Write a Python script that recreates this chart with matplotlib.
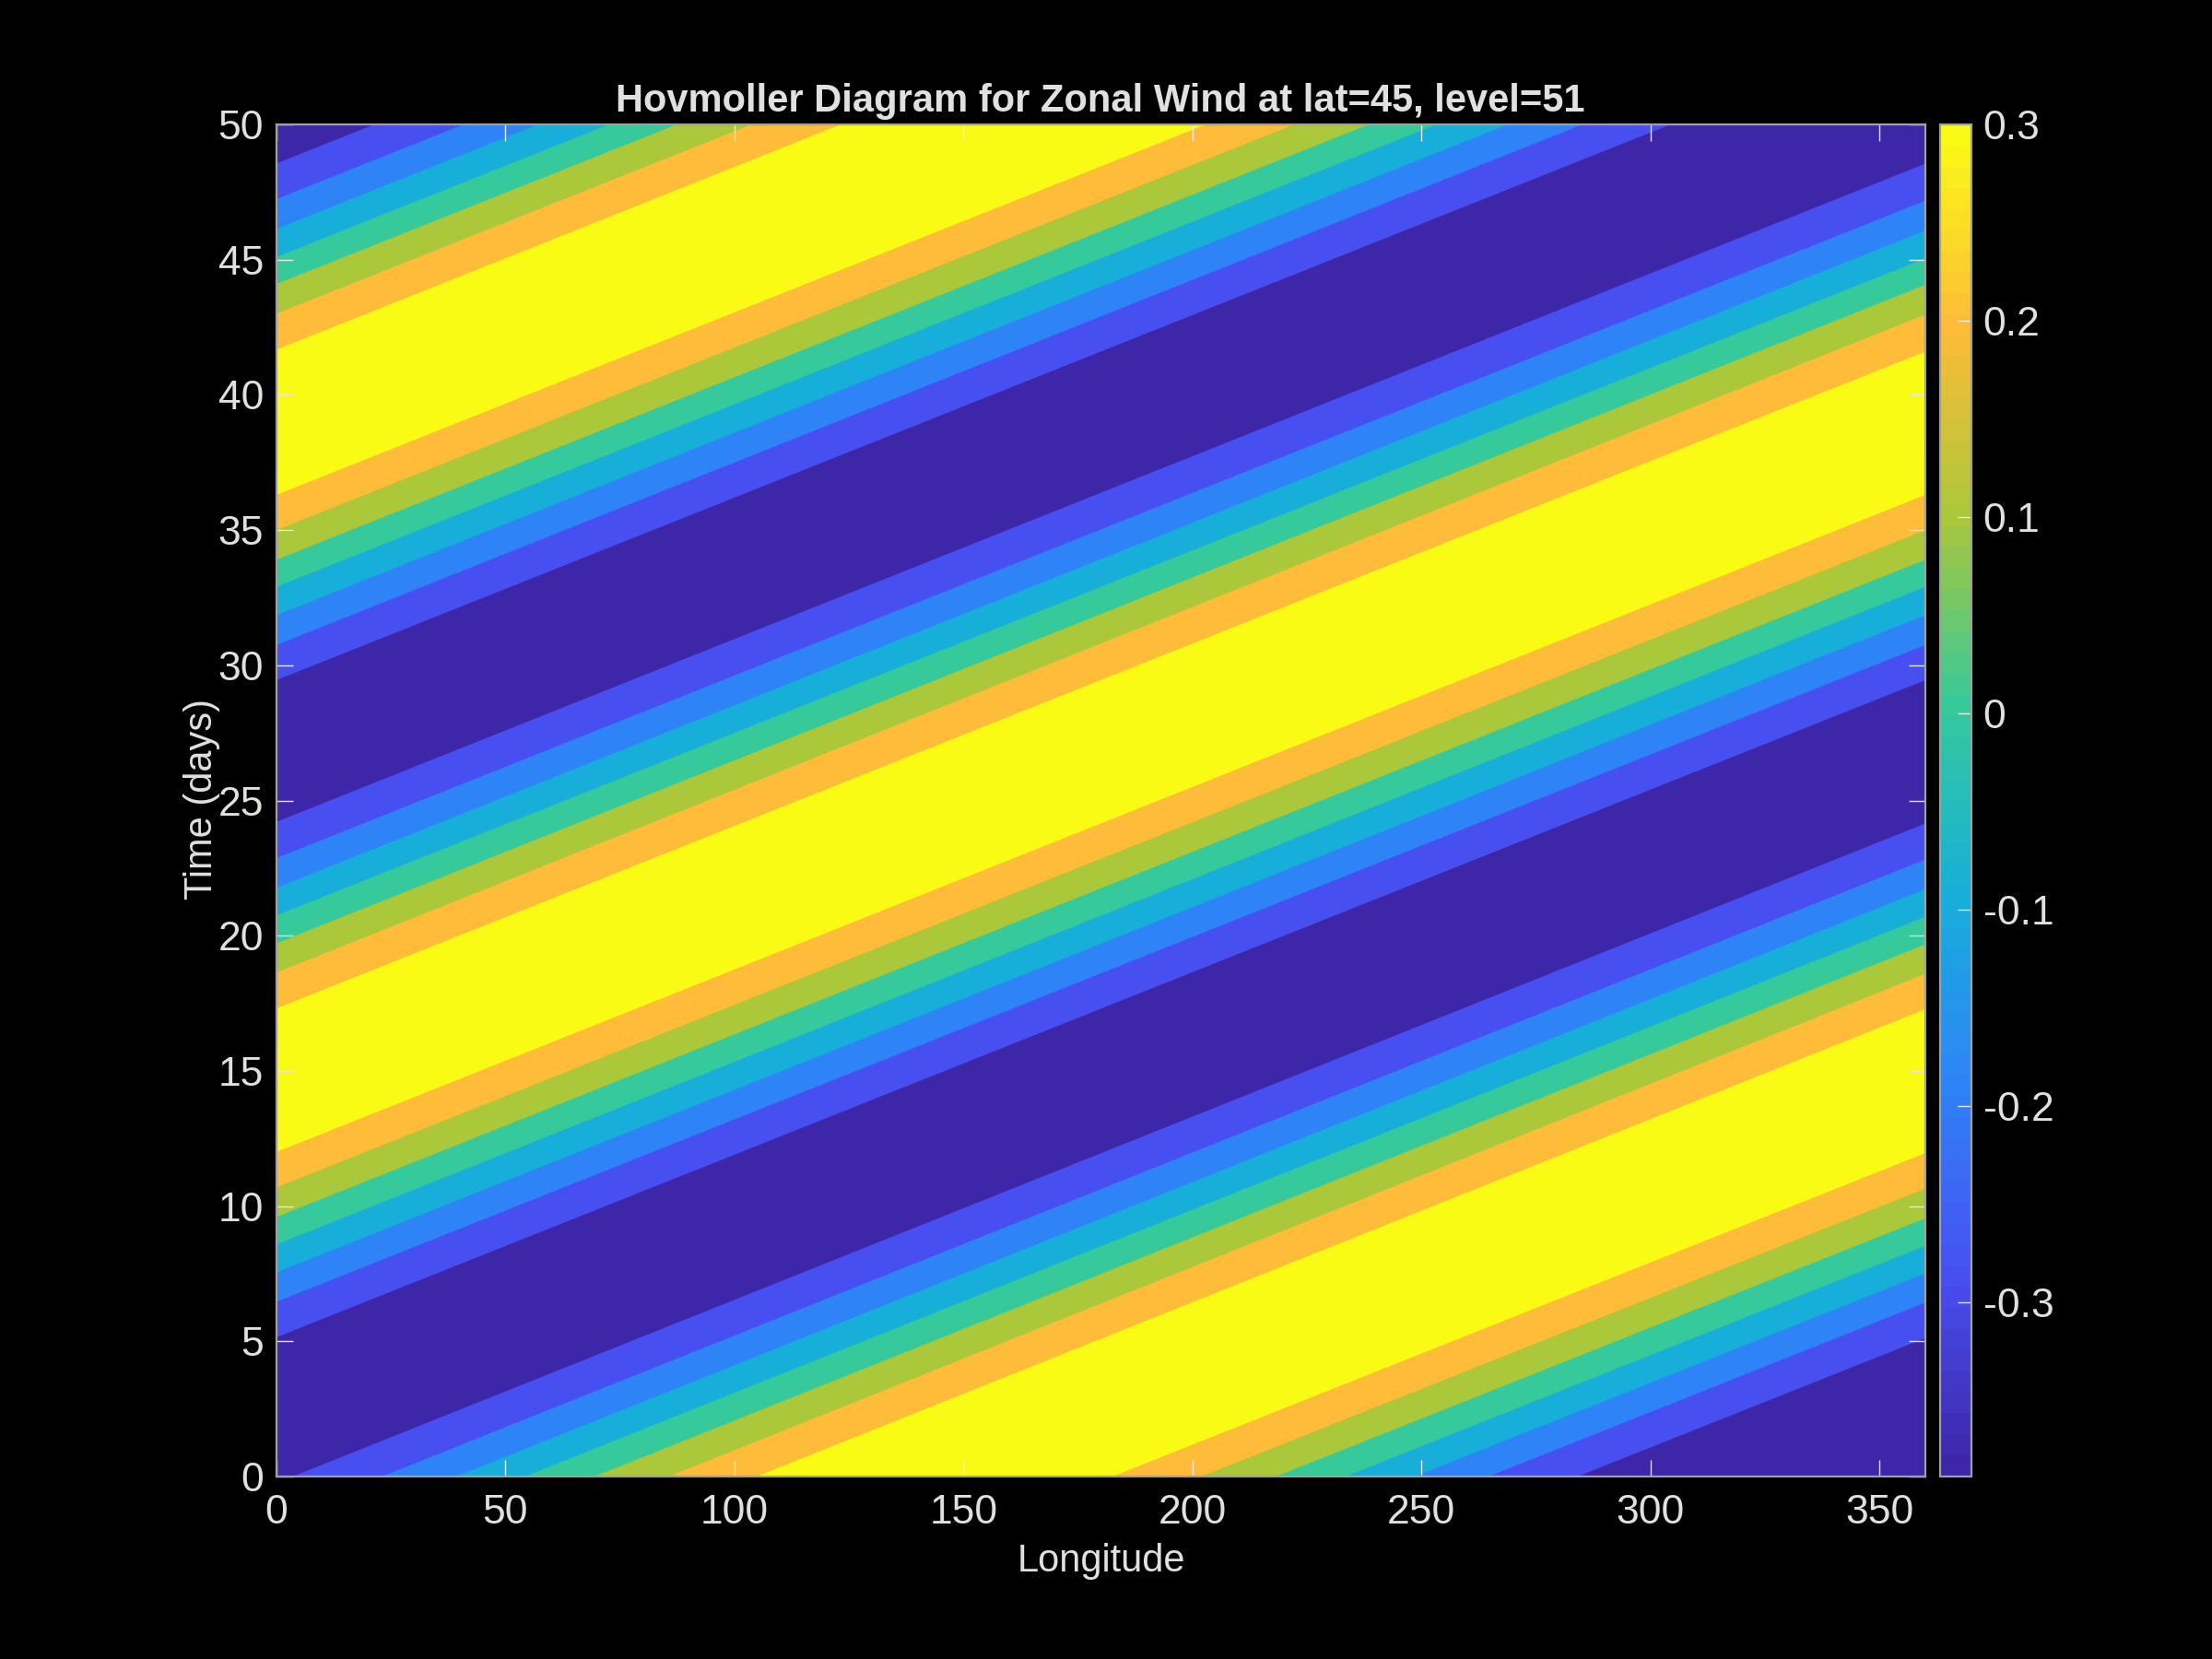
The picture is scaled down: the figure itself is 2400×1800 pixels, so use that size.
import matplotlib
matplotlib.use('Agg')
import matplotlib.pyplot as plt
from matplotlib.colors import LinearSegmentedColormap, Normalize
from matplotlib.cm import ScalarMappable

plt.rcParams['font.family'] = ['Liberation Sans', 'DejaVu Sans']

# time (days) where each contour edge meets lon=0 and lon=360
lon_ends = [0, 360]
edges_lon0 = [-30.0, -19.15, -17.84, -16.75, -15.72, -14.7, -13.6, -12.3,
              -7.1, -5.8, -4.7, -3.67, -2.65, -1.56, -0.24,
              5.15, 6.46, 7.55, 8.58, 9.6, 10.69, 12.0,
              17.31, 18.64, 19.72, 20.75, 21.77, 22.87, 24.21,
              29.45, 30.75, 31.85, 32.9, 33.9, 35.0, 36.3,
              41.67, 43.0, 44.1, 45.1, 46.14, 47.24, 48.56]
edges_lon360 = [-5.0, 5.12, 6.43, 7.51, 8.53, 9.55, 10.65, 11.96,
                17.28, 18.59, 19.68, 20.7, 21.72, 22.82, 24.15,
                29.45, 30.75, 31.85, 32.9, 33.9, 35.0, 36.3,
                41.6, 42.97, 44.07, 45.05, 46.08, 47.18, 48.55,
                53.75, 55.05, 56.15, 57.2, 58.2, 59.3, 60.6,
                66.0, 67.3, 68.4, 69.4, 70.45, 71.55, 72.85]
# colour index of the band lying above each edge
band_index = [0, 1, 2, 3, 4, 5, 6, 7,
              6, 5, 4, 3, 2, 1, 0,
              1, 2, 3, 4, 5, 6, 7,
              6, 5, 4, 3, 2, 1, 0,
              1, 2, 3, 4, 5, 6, 7,
              6, 5, 4, 3, 2, 1, 0]

band_colors = ['#3d26a8', '#484ff0', '#2e83f7', '#17afda',
               '#35c99b', '#abc73a', '#febc38', '#f9fb15']
cbar_range = [-0.389, 0.3]
cbar_ticks = [-0.3, -0.2, -0.1, 0, 0.1, 0.2, 0.3]
cbar_labels = ['-0.3', '-0.2', '-0.1', '0', '0.1', '0.2', '0.3']
lon_ticks = [0, 50, 100, 150, 200, 250, 300, 350]
time_ticks = [0, 5, 10, 15, 20, 25, 30, 35, 40, 45, 50]

text_col = '#e0e0e0'
line_col = '#a0a0a0'

fig = plt.figure(figsize=(12, 9), dpi=200, facecolor='black')
ax = fig.add_axes([300/2400, 1-1602/1800, 1789/2400, 1467/1800], facecolor='black')
cax = fig.add_axes([2105/2400, 1-1602/1800, 34/2400, 1467/1800], facecolor='black')

# paint from the bottom up, each band running past the top so no seams show
for t0, t1, idx in zip(edges_lon0, edges_lon360, band_index):
    ax.fill_between(lon_ends, [t0, t1], [120, 120], color=band_colors[idx], lw=0, zorder=1)

ax.set_xlim(0, 360)
ax.set_ylim(0, 50)
ax.set_xticks(lon_ticks)
ax.set_yticks(time_ticks)
ax.tick_params(direction='in', length=6.5, width=0.5, color='#e8e8e8', labelcolor=text_col,
               labelsize=16, top=True, right=True, pad=5, zorder=5)
ax.tick_params(axis='x', pad=7)
for s in ax.spines.values():
    s.set_color(line_col)
    s.set_linewidth(0.8)
    s.set_zorder(6)

fig.text(1195/2400, 1-1694/1800, 'Longitude', color=text_col, fontsize=15, ha='center', va='center')
fig.text(219/2400, 1-867/1800, 'Time (days)', color=text_col, fontsize=15, ha='center', va='center',
         rotation=90)
fig.text(1194/2400, 1-110/1800, 'Hovmoller Diagram for Zonal Wind at lat=45, level=51', color=text_col,
         fontsize=15, fontweight='bold', ha='center', va='center')

cmap = LinearSegmentedColormap.from_list('parula_like', band_colors, N=64)
sm = ScalarMappable(norm=Normalize(*cbar_range), cmap=cmap)
cb = fig.colorbar(sm, cax=cax)
cb.set_ticks(cbar_ticks)
cb.set_ticklabels(cbar_labels)
cb.ax.tick_params(direction='in', length=5.5, width=0.5, color='#e8e8e8', labelcolor=text_col,
                  labelsize=16, pad=4.5)
cb.outline.set_edgecolor(line_col)
cb.outline.set_linewidth(0.8)

fig.savefig('out.png', dpi=200, facecolor='black')
